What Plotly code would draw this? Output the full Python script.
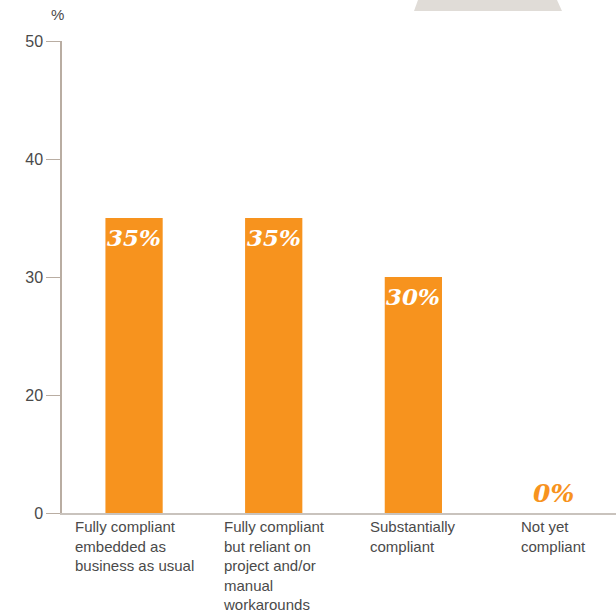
import plotly.graph_objects as go

categories = ["Fully compliant<br>embedded as<br>business as usual",
              "Fully compliant<br>but reliant on<br>project and/or<br>manual<br>workarounds",
              "Substantially<br>compliant",
              "Not yet<br>compliant"]
values = [35, 35, 30, 0]
value_labels = ["35%", "35%", "30%", "0%"]
tick_vals = [10, 20, 30, 40, 50]
tick_text = ["0", "20", "30", "40", "50"]

ORANGE = "#f7931e"
AXIS = "#b9ada2"
TXT = "#4a4a4a"

xs = list(range(len(categories)))

fig = go.Figure()
fig.add_trace(go.Bar(x=xs, y=values, marker_color=ORANGE, width=0.41,
                     marker_line_width=0, hoverinfo="skip"))

ymin = tick_vals[0]
for x, v, lab in zip(xs, values, value_labels):
    if v > ymin:
        fig.add_annotation(x=x, y=v, text="<b><i>%s</i></b>" % lab, showarrow=False,
                           yanchor="top", yshift=-4,
                           font=dict(family="DejaVu Serif", size=23, color="white"))
    else:
        fig.add_annotation(x=x, y=ymin, text="<b><i>%s</i></b>" % lab, showarrow=False,
                           yanchor="bottom", yshift=3,
                           font=dict(family="DejaVu Serif", size=25, color=ORANGE))

for x, c in zip(xs, categories):
    fig.add_annotation(x=x, y=0, yref="paper", text=c, showarrow=False,
                       xanchor="center", yanchor="top", align="left", yshift=-3,
                       font=dict(family="Liberation Sans", size=15, color=TXT))

# window pixel -> paper coords (plot area spans x 62..616, y 41..513 in the window)
def px(xp, yp):
    return (xp - 62) / 554, (513 - yp) / 472

pxp, pyp = px(57, 15)
fig.add_annotation(x=pxp, y=pyp, xref="paper", yref="paper", text="%",
                   showarrow=False, xanchor="center", yanchor="middle",
                   font=dict(family="Liberation Sans", size=15, color=TXT))

pts = [px(418, 0), px(557, 0), px(562, 11), px(414, 11)]
path = "M " + " L ".join("%f,%f" % p for p in pts) + " Z"
fig.add_shape(type="path", path=path, xref="paper", yref="paper",
              fillcolor="#e0dcd7", line_width=0, layer="below")

fig.update_layout(
    width=616, height=614,
    margin=dict(l=62, r=0, t=41, b=101),
    plot_bgcolor="white", paper_bgcolor="white",
    showlegend=False,
    xaxis=dict(range=[-0.516, 3.451], showticklabels=False, ticks="",
               showgrid=False, zeroline=False, showline=True,
               linecolor="#c9c3bd", linewidth=1.5),
    yaxis=dict(range=[10, 50], tickvals=tick_vals, ticktext=tick_text,
               showgrid=False, zeroline=False, showline=True,
               linecolor=AXIS, linewidth=1.5, ticks="outside", ticklen=14,
               tickcolor=AXIS, tickwidth=1,
               tickfont=dict(family="Liberation Sans", size=16, color=TXT)),
)

# remove the default page margin so the figure sits at the window's top-left corner
fig.write_html("out.html", config={"displayModeBar": False},
               post_script="document.body.style.margin='0';document.body.style.overflow='hidden';")
